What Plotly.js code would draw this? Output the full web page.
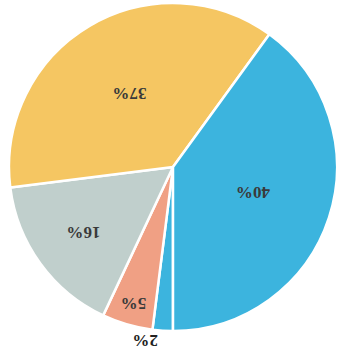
<!DOCTYPE html>
<html><head><meta charset="utf-8">
<script src="https://cdn.plot.ly/plotly-3.0.1.min.js"></script>
<style>html,body{margin:0;padding:0;background:#fff;overflow:hidden}
#chart{width:340px;height:361px;transform:rotate(180deg);transform-origin:50% 50%}</style>
</head><body><div id="chart"></div>
<script>
const labels = ["E", "D", "C", "B", "A"];
const values = [2, 5, 16, 37, 40];
const colors = ["#3cb4de", "#f0a084", "#c0cfcc", "#f5c662", "#3cb4de"];

Plotly.newPlot('chart', [{
  type: 'pie',
  labels: labels,
  values: values,
  sort: false,
  direction: 'clockwise',
  rotation: 0,
  textinfo: 'percent',
  texttemplate: '%{percent:.0%}',
  textposition: ['outside','inside','inside','inside','inside'],
  insidetextorientation: 'horizontal',
  textfont: {family: 'Liberation Serif', size: 17, color: '#3a3a3a', weight: 'bold'},
  outsidetextfont: {family: 'Liberation Serif', size: 17, color: '#222', weight: 'bold'},
  marker: {colors: colors, line: {color: '#ffffff', width: 2.5}},
  automargin: false,
  hoverinfo: 'none'
}], {
  width: 340, height: 361,
  margin: {l: 2, r: 8, t: 30, b: 3},
  showlegend: false,
  paper_bgcolor: '#ffffff'
}, {staticPlot: true});
</script></body></html>
